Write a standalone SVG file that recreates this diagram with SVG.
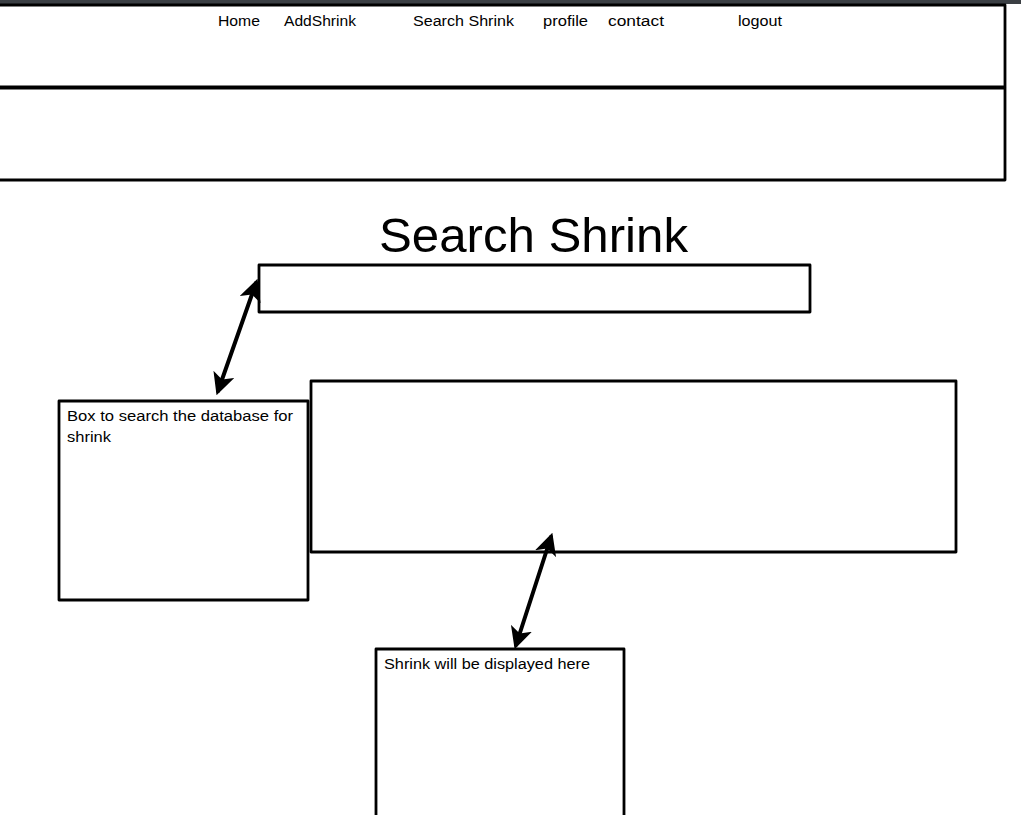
<svg xmlns="http://www.w3.org/2000/svg" width="1021" height="815" viewBox="0 0 1021 815">
  <style>
    .box { fill: #ffffff; stroke: #000000; stroke-width: 2.8; stroke-linejoin: round; }
    .nav { font-family: "Liberation Sans", Arial, sans-serif; font-size: 15.5px; fill: #000000; }
    .note { font-family: "Liberation Sans", Arial, sans-serif; font-size: 15.5px; fill: #000000; }
    .title { font-family: "Liberation Sans", Arial, sans-serif; font-size: 48px; fill: #000000; }
    .conn { stroke: #000000; stroke-width: 4; fill: none; stroke-linecap: round; }
  </style>
  <defs>
    <marker id="ah" viewBox="0 0 10 10" refX="8" refY="5" markerWidth="5.5" markerHeight="5.5" orient="auto-start-reverse" markerUnits="strokeWidth">
      <path d="M0,0 L10,5 L0,10 L2.5,5 Z" fill="#000000"/>
    </marker>
  </defs>
  <rect x="0" y="0" width="1021" height="815" fill="#ffffff"/>
  <rect x="0" y="0" width="1021" height="4" fill="#3b3f44"/>

  <g id="header">
    <rect class="box" x="-10" y="5" width="1015" height="82"/>
    <text class="nav" x="218" y="26" textLength="42" lengthAdjust="spacingAndGlyphs">Home</text>
    <text class="nav" x="284" y="26" textLength="72" lengthAdjust="spacingAndGlyphs">AddShrink</text>
    <text class="nav" x="413" y="26" textLength="101" lengthAdjust="spacingAndGlyphs">Search Shrink</text>
    <text class="nav" x="543" y="26" textLength="45" lengthAdjust="spacingAndGlyphs">profile</text>
    <text class="nav" x="608" y="26" textLength="56" lengthAdjust="spacingAndGlyphs">contact</text>
    <text class="nav" x="738" y="26" textLength="44" lengthAdjust="spacingAndGlyphs">logout</text>
  </g>
  <g id="banner">
    <rect class="box" x="-10" y="88" width="1015" height="92"/>
  </g>
  <g id="title">
    <text class="title" x="379" y="252" textLength="309" lengthAdjust="spacingAndGlyphs">Search Shrink</text>
  </g>
  <g id="search-input">
    <rect class="box" x="259" y="265" width="551" height="47"/>
  </g>
  <g id="results-box">
    <rect class="box" x="311" y="381" width="645" height="171"/>
  </g>
  <g id="search-note">
    <rect class="box" x="59" y="401" width="249" height="199"/>
    <text class="note" x="67" y="421" textLength="226" lengthAdjust="spacingAndGlyphs">Box to search the database for</text>
    <text class="note" x="67" y="442" textLength="44" lengthAdjust="spacingAndGlyphs">shrink</text>
  </g>
  <g id="results-note">
    <rect class="box" x="376" y="649" width="248" height="180"/>
    <text class="note" x="384" y="669" textLength="206" lengthAdjust="spacingAndGlyphs">Shrink will be displayed here</text>
  </g>
  <g id="connectors">
    <line class="conn" x1="218" y1="391" x2="256" y2="283" marker-start="url(#ah)" marker-end="url(#ah)"/>
    <line class="conn" x1="516" y1="645" x2="551" y2="537" marker-start="url(#ah)" marker-end="url(#ah)"/>
  </g>
</svg>
